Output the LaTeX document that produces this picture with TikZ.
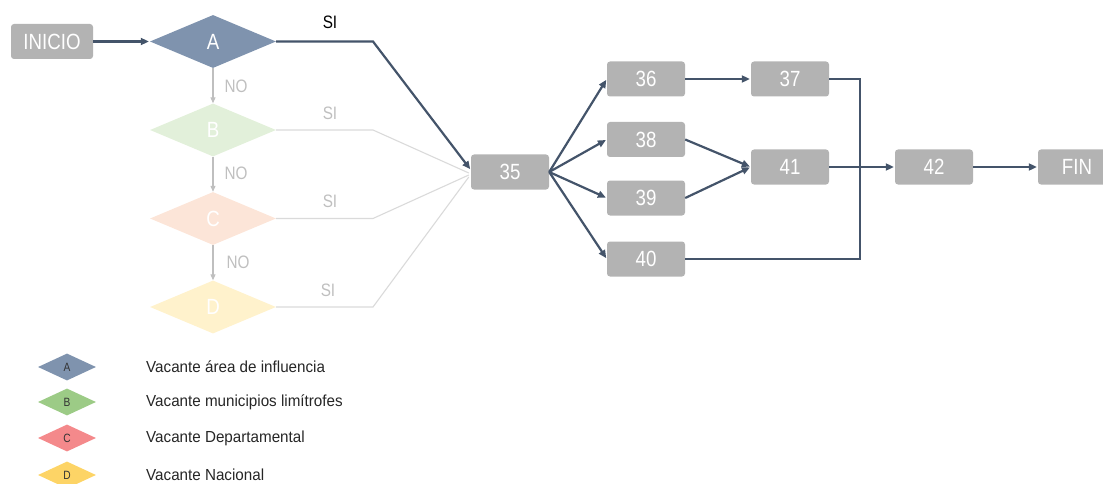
\documentclass[tikz,border=0pt]{standalone}
\usepackage{fontspec}
\setmainfont{Liberation Sans}[FakeStretch=0.85]
\newfontfamily\legfont{Liberation Sans}[FakeStretch=0.95]
\usetikzlibrary{shapes.geometric,arrows.meta,calc}
\definecolor{boxgray}{HTML}{B3B3B3}
\definecolor{darkline}{HTML}{44546A}
\definecolor{lightline}{HTML}{DADADA}
\definecolor{labgray}{HTML}{BFBFBF}
\definecolor{dA}{HTML}{7F93AE}
\definecolor{dB}{HTML}{E2F0DA}
\definecolor{dC}{HTML}{FCE5D8}
\definecolor{dD}{HTML}{FFF2CC}
\definecolor{lA}{HTML}{7F93AE}
\definecolor{lB}{HTML}{9CCB86}
\definecolor{lC}{HTML}{F4898B}
\definecolor{lD}{HTML}{FDD466}
\tikzset{
  stepbox/.style={draw=none, fill=boxgray, rounded corners=3pt, minimum width=78pt, minimum height=35pt, inner sep=0pt, text=white, font=\fontsize{22}{24}\selectfont},
  decision/.style={diamond, draw=none, fill=#1, minimum width=126pt, minimum height=53pt, inner sep=0pt, text=white, font=\fontsize{22}{24}\selectfont},
  legdia/.style={diamond, draw=none, fill=#1, minimum width=58pt, minimum height=27pt, inner sep=0pt, text=black!80, font=\fontsize{12}{14}\selectfont},
  legtext/.style={anchor=west, inner sep=0pt, text=black!85, font=\legfont\fontsize{16}{18}\selectfont},
  darkarrow/.style={draw=darkline, line width=2.2pt, shorten >=1pt, -{Triangle[length=8pt,width=7pt]}},
  darkline/.style={draw=darkline, line width=2.2pt},
  lightline/.style={draw=lightline, line width=1.1pt},
  noarrow/.style={draw=labgray, line width=1.1pt, -{Triangle[length=6pt,width=5pt]}},
  graylabel/.style={text=labgray, inner sep=0pt, font=\fontsize{18}{20}\selectfont},
  blacklabel/.style={text=black, inner sep=0pt, font=\fontsize{18}{20}\selectfont}
}
\begin{document}
\begin{tikzpicture}[x=1pt, y=-1pt]
\useasboundingbox (0,0) rectangle (1103,484);
% main nodes
\node[stepbox, minimum width=82pt] (inicio) at (52,41.5) {INICIO};
\node[decision=dA] (A) at (213,41.5) {A};
\node[decision=dB] (B) at (213,130) {B};
\node[decision=dC] (C) at (213,218.5) {C};
\node[decision=dD] (D) at (213,307) {D};
\node[stepbox] (n35) at (510,172) {35};
\node[stepbox] (n36) at (646,79) {36};
\node[stepbox] (n38) at (646,139.5) {38};
\node[stepbox] (n39) at (646,198) {39};
\node[stepbox] (n40) at (646,259) {40};
\node[stepbox] (n37) at (790,79) {37};
\node[stepbox] (n41) at (790,167) {41};
\node[stepbox] (n42) at (934,167) {42};
\node[stepbox] (fin) at (1077,167) {FIN};
% bend coordinates
\coordinate (kA) at (373,41.5);
\coordinate (kB) at (373,130);
\coordinate (kC) at (373,218.5);
\coordinate (kD) at (373,307);
\coordinate (kR) at (860,79);
\coordinate (kS) at (860,259);
% gray paths
\draw[lightline] (B.east) -- (kB) -- ($(n35.west)+(-2,1)$);
\draw[lightline] (C.east) -- (kC) -- ($(n35.west)+(-2,3)$);
\draw[lightline] (D.east) -- (kD) -- ($(n35.west)+(-2,5)$);
\draw[noarrow] (A.south) -- (B.north);
\draw[noarrow] (B.south) -- (C.north);
\draw[noarrow] (C.south) -- (D.north);
% labels
\node[blacklabel] (siA) at (330,22) {SI};
\node[graylabel] (siB) at (330,113) {SI};
\node[graylabel] (siC) at (330,201) {SI};
\node[graylabel] (siD) at (328,290) {SI};
\node[graylabel] (noA) at (236,86) {NO};
\node[graylabel] (noB) at (236,173) {NO};
\node[graylabel] (noC) at (238,262) {NO};
% dark paths
\draw[darkarrow] (inicio.east) -- (A.west);
\draw[darkarrow] (A.east) -- (kA) -- ($(n35.west)+(0,-2)$);
\draw[darkarrow] (n35.east) -- (n36.west);
\draw[darkarrow] (n35.east) -- (n38.west);
\draw[darkarrow] (n35.east) -- (n39.west);
\draw[darkarrow] (n35.east) -- (n40.west);
\draw[darkarrow] (n36.east) -- (n37.west);
\draw[darkarrow] (n38.east) -- (n41.west);
\draw[darkarrow] (n39.east) -- (n41.west);
\draw[darkline] (n37.east) -- (kR) -- (kS) -- (n40.east);
\draw[darkarrow] (n41.east) -- (n42.west);
\draw[darkarrow] (n42.east) -- (fin.west);
% legend
\node[legdia=lA] (gA) at (67,367) {A};
\node[legdia=lB] (gB) at (67,402) {B};
\node[legdia=lC] (gC) at (67,438) {C};
\node[legdia=lD] (gD) at (67,475) {D};
\node[legtext] (tA) at (146,367) {Vacante área de influencia};
\node[legtext] (tB) at (146,402) {Vacante municipios limítrofes};
\node[legtext] (tC) at (146,438) {Vacante Departamental};
\node[legtext] (tD) at (146,475) {Vacante Nacional};
\end{tikzpicture}
\end{document}
